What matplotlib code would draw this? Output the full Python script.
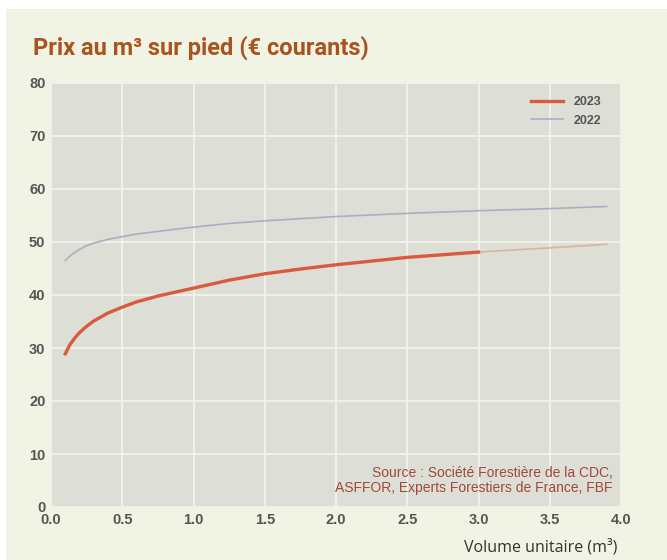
import matplotlib
matplotlib.use("Agg")
from matplotlib import pyplot as plt
from matplotlib.patches import Rectangle

# values
x_2023 = [0.1, 0.13, 0.17, 0.2, 0.25, 0.3, 0.4, 0.5, 0.6, 0.75, 0.9, 1.0, 1.25, 1.5, 1.75,
          2.0, 2.25, 2.5, 2.75, 3.0]
y_2023 = [28.9, 30.5, 32.0, 32.9, 34.1, 35.1, 36.6, 37.7, 38.7, 39.8, 40.7, 41.3, 42.8, 44.0,
          44.9, 45.7, 46.4, 47.1, 47.6, 48.1]
x_2023_ext = [3.0, 3.25, 3.5, 3.75, 3.9]
y_2023_ext = [48.1, 48.5, 48.9, 49.3, 49.6]
x_2022 = [0.1, 0.13, 0.17, 0.2, 0.25, 0.3, 0.4, 0.5, 0.6, 0.75, 0.9, 1.0, 1.25, 1.5, 1.75,
          2.0, 2.5, 3.0, 3.5, 3.9]
y_2022 = [46.5, 47.3, 48.1, 48.6, 49.3, 49.8, 50.5, 51.0, 51.5, 52.0, 52.5, 52.8, 53.5, 54.0,
          54.4, 54.8, 55.4, 55.9, 56.3, 56.7]

x_ticks = [0.0, 0.5, 1.0, 1.5, 2.0, 2.5, 3.0, 3.5, 4.0]
y_ticks = [0, 10, 20, 30, 40, 50, 60, 70, 80]

cream = "#f1f4e4"
panel = "#dddfd7"

fig = plt.figure(figsize=(6.67, 5.6), dpi=100)
fig.patch.set_facecolor("white")
fig.patches.append(Rectangle((6 / 667, 0), 1, 1 - 9 / 560, transform=fig.transFigure,
                             facecolor=cream, edgecolor="none", zorder=-10))

ax = fig.add_axes([51 / 667, 1 - 507 / 560, 570 / 667, 424 / 560])
ax.set_facecolor(panel)
for s in ax.spines.values():
    s.set_visible(False)
ax.set_xlim(0, 4)
ax.set_ylim(0, 80)
ax.set_xticks(x_ticks)
ax.set_yticks(y_ticks)
ax.set_xticklabels(["%.1f" % v for v in x_ticks])
ax.grid(True, color="#f2f3ec", linewidth=1.3)
ax.set_axisbelow(True)
ax.tick_params(length=0, labelsize=10.5, labelcolor="#555555", pad=4)
for lab in ax.get_xticklabels() + ax.get_yticklabels():
    lab.set_family("Liberation Sans")
    lab.set_fontweight("bold")

ax.plot(x_2023_ext, y_2023_ext, color="#d9b4a3", linewidth=1.2, zorder=2)
ax.plot(x_2022, y_2022, color="#aeadc0", linewidth=1.2, label="2022", zorder=3)
ax.plot(x_2023, y_2023, color="#d95a3c", linewidth=2.4, label="2023", zorder=4)

h, l = ax.get_legend_handles_labels()
leg = ax.legend(h[::-1], l[::-1], loc="upper right", frameon=False,
                prop={"family": "Liberation Sans", "weight": "bold", "size": 9},
                handlelength=2.6, labelspacing=0.5, bbox_to_anchor=(0.985, 0.995))
for t in leg.get_texts():
    t.set_color("#555555")

ax.text(0.985, 0.028, "Source : Société Forestière de la CDC,\nASFFOR, Experts Forestiers de France, FBF",
        transform=ax.transAxes, ha="right", va="bottom", color="#a2473a",
        family="Liberation Sans", fontsize=10, linespacing=1.1)

fig.text(33 / 667, 1 - 48 / 560, "Prix au m³ sur pied (€ courants)", family="Roboto",
         fontweight="bold", fontsize=17, color="#a9541f", va="center", ha="left")
fig.text(617 / 667, 1 - 547 / 560, "Volume unitaire (m³)", family="Open Sans",
         fontsize=11.5, color="#333333", va="center", ha="right")

fig.savefig("out.png", dpi=100, facecolor=fig.get_facecolor())
